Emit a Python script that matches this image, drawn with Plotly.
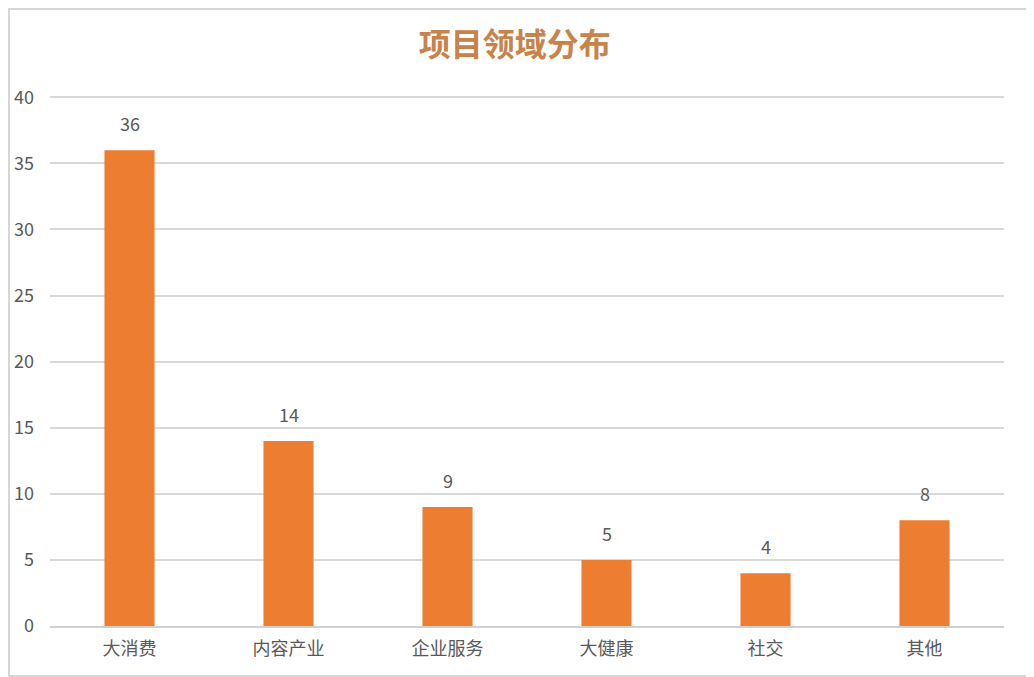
import plotly.graph_objects as go

CATEGORIES = ["大消费", "内容产业", "企业服务", "大健康", "社交", "其他"]
COUNTS = [36, 14, 9, 5, 4, 8]
Y_TICKS = [0, 5, 10, 15, 20, 25, 30, 35, 40]

BAR_COLOR = "#ED7D31"
TEXT_COLOR = "#595959"
FONT = "Noto Sans CJK SC, Noto Sans, sans-serif"

fig = go.Figure()
fig.add_trace(go.Bar(
    x=CATEGORIES,
    y=COUNTS,
    marker=dict(color=BAR_COLOR, line=dict(width=0)),
    hoverinfo="x+y",
))

# value labels above the bars
for cat, val in zip(CATEGORIES, COUNTS):
    fig.add_annotation(
        x=cat, y=val, text=str(val), showarrow=False,
        yanchor="bottom", yshift=12,
        font=dict(size=18, color=TEXT_COLOR),
    )

fig.update_layout(
    width=1026,
    height=669,
    margin=dict(l=42, r=30, t=88, b=51),
    paper_bgcolor="white",
    plot_bgcolor="white",
    font=dict(family=FONT, color=TEXT_COLOR, size=17),
    bargap=0.685,
    showlegend=False,
    title=dict(
        text="<b>项目领域分布</b>",
        x=0.494, xanchor="center",
        y=0.945, yanchor="middle",
        font=dict(size=32, color="#C8834A", family=FONT),
    ),
    shapes=[dict(
        type="rect", xref="paper", yref="paper",
        x0=-41 / 954, x1=1 + 29 / 954, y0=-50 / 530, y1=1 + 87 / 530,
        line=dict(color="#D6D6D6", width=2), fillcolor="rgba(0,0,0,0)",
    )],
)

fig.update_yaxes(
    range=[0, 40.1],
    tickvals=Y_TICKS,
    gridcolor="#D9D9D9",
    gridwidth=1.5,
    zeroline=False,
    showline=False,
    ticks="",
    automargin=False,
    ticklabelstandoff=15,
    tickfont=dict(size=18, color=TEXT_COLOR),
)
fig.update_xaxes(
    showline=True,
    linecolor="#D0D0D0",
    linewidth=1.5,
    ticks="",
    automargin=False,
    ticklabelstandoff=6,
    tickfont=dict(size=18, color=TEXT_COLOR),
)

fig.write_html("out.html")
